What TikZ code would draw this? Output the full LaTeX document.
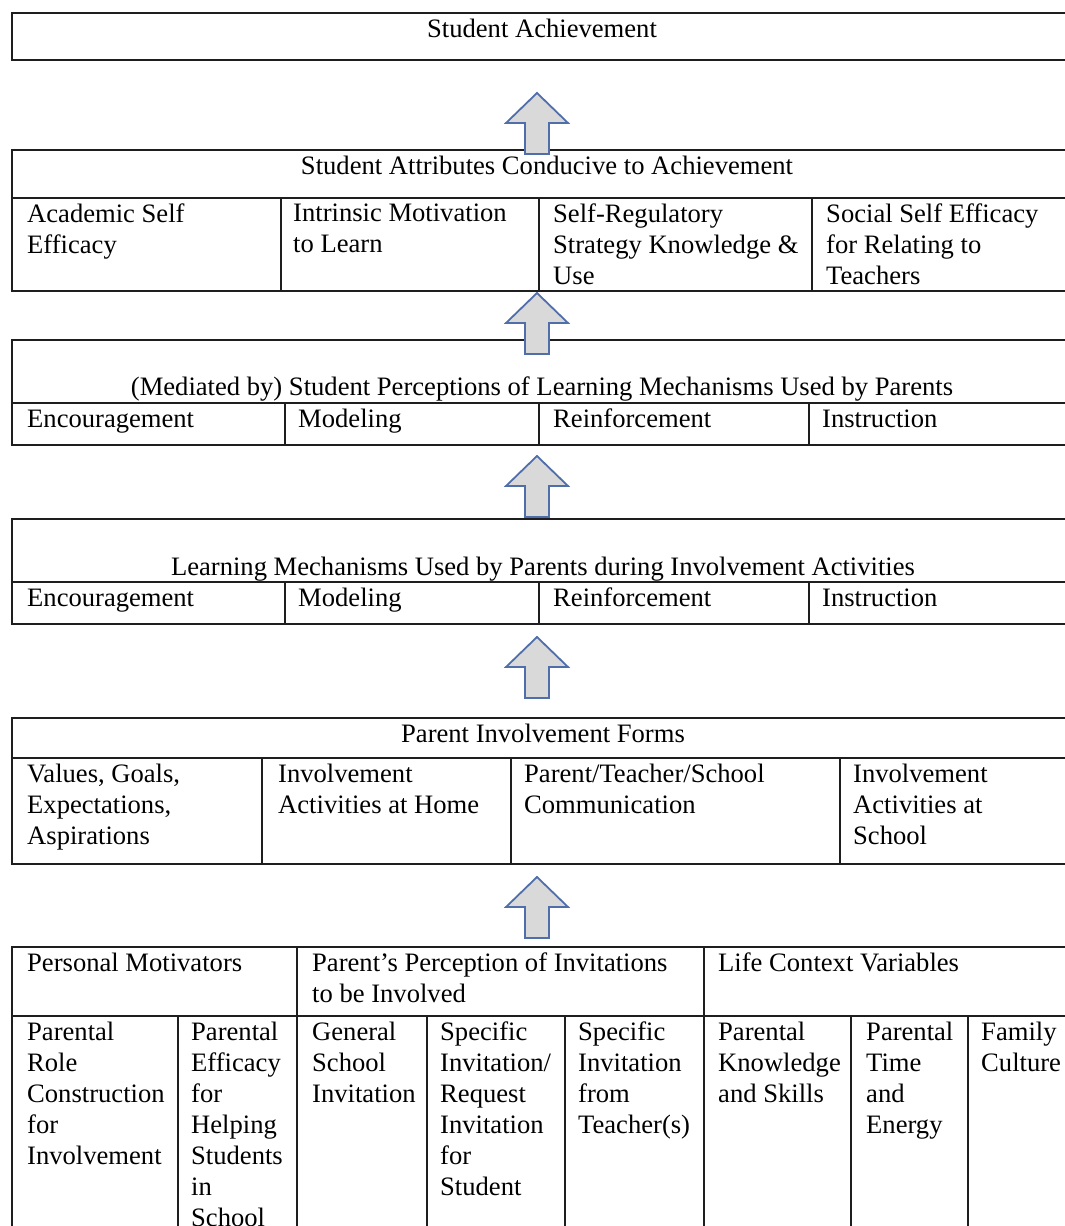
\documentclass[tikz,border=0pt]{standalone}
\usepackage{fontspec}
\setmainfont{Liberation Serif}
\definecolor{linec}{RGB}{30,30,30}
\definecolor{arrfill}{RGB}{217,217,217}
\definecolor{arrline}{RGB}{79,110,170}
\newcommand\diagfont{\fontsize{26.6}{31}\selectfont}
\begin{document}
\begin{tikzpicture}[x=1pt,y=-1pt,
  box/.style={draw=linec, line width=1.5pt},
  txt/.style={anchor=north west, inner sep=0pt, align=left, font=\diagfont, execute at begin node=\strut},
  mtxt/.style={txt, yshift=-3.5pt},
  head/.style={anchor=base, inner sep=0pt, font=\diagfont},
  blockarrow/.pic={\filldraw[fill=arrfill, draw=arrline, line width=1.8pt, line join=miter]
     (0,0) -- (31,30) -- (12,30) -- (12,61) -- (-12,61) -- (-12,30) -- (-31,30) -- cycle;}
]
\useasboundingbox (0,0) rectangle (1065,1226);
\clip (0,0) rectangle (1065,1226);

% Box 1
\draw[box] (12,13) rectangle (1080,60);
% Box 2
\draw[box] (12,150) rectangle (1080,291);
\draw[box] (12,198) -- (1080,198);
\foreach \x in {281,539,812} \draw[box] (\x,198) -- (\x,291);
% Box 3
\draw[box] (12,340) rectangle (1080,445);
\draw[box] (12,403) -- (1080,403);
\foreach \x in {285,539,809} \draw[box] (\x,403) -- (\x,445);
% Box 4
\draw[box] (12,519) rectangle (1080,624);
\draw[box] (12,582) -- (1080,582);
\foreach \x in {285,539,809} \draw[box] (\x,582) -- (\x,624);
% Box 5
\draw[box] (12,718) rectangle (1080,864);
\draw[box] (12,758) -- (1080,758);
\foreach \x in {262,511,840} \draw[box] (\x,758) -- (\x,864);
% Box 6
\draw[box] (12,947) rectangle (1080,1240);
\draw[box] (12,1016) -- (1080,1016);
\foreach \x in {297,704} \draw[box] (\x,947) -- (\x,1016);
\foreach \x in {178,297,427,565,704,851,968} \draw[box] (\x,1016) -- (\x,1240);

% Arrows
\pic at (537,93) {blockarrow};
\pic at (537,293) {blockarrow};
\pic at (537,456) {blockarrow};
\pic at (537,637) {blockarrow};
\pic at (537,877) {blockarrow};

% Texts
\node[head] (ach) at (542,37) {Student Achievement};

\node[head] (attr) at (547,174) {Student Attributes Conducive to Achievement};
\node[mtxt] (a1) at (27,200.3) {Academic Self\\Efficacy};
\node[mtxt] (a2) at (293,200.3) {Intrinsic Motivation\\to Learn};
\node[mtxt] (a3) at (553,200.3) {Self-Regulatory\\Strategy Knowledge \&\\Use};
\node[mtxt] (a4) at (826,200.3) {Social Self Efficacy\\for Relating to\\Teachers};

\node[head] (med) at (542,395) {(Mediated by) Student Perceptions of Learning Mechanisms Used by Parents};
\node[txt] (m1) at (27,405.3) {Encouragement};
\node[txt] (m2) at (298,405.3) {Modeling};
\node[txt] (m3) at (553,405.3) {Reinforcement};
\node[txt] (m4) at (822,405.3) {Instruction};

\node[head] (lm) at (543,575) {Learning Mechanisms Used by Parents during Involvement Activities};
\node[txt] (l1) at (27,584.3) {Encouragement};
\node[txt] (l2) at (298,584.3) {Modeling};
\node[txt] (l3) at (553,584.3) {Reinforcement};
\node[txt] (l4) at (822,584.3) {Instruction};

\node[head] (pif) at (543,742) {Parent Involvement Forms};
\node[mtxt] (f1) at (27,760.3) {Values, Goals,\\Expectations,\\Aspirations};
\node[mtxt] (f2) at (278,760.3) {Involvement\\Activities at Home};
\node[mtxt] (f3) at (524,760.3) {Parent/Teacher/School\\Communication};
\node[mtxt] (f4) at (853,760.3) {Involvement\\Activities at\\School};

\node[txt] (g1) at (27,949.3) {Personal Motivators};
\node[mtxt] (g2) at (312,949.3) {Parent’s Perception of Invitations\\to be Involved};
\node[txt] (g3) at (718,949.3) {Life Context Variables};

\node[mtxt] (s1) at (27,1018.3) {Parental\\Role\\Construction\\for\\Involvement};
\node[mtxt] (s2) at (191,1018.3) {Parental\\Efficacy\\for\\Helping\\Students\\in\\School};
\node[mtxt] (s3) at (312,1018.3) {General\\School\\Invitation};
\node[mtxt] (s4) at (440,1018.3) {Specific\\Invitation/\\Request\\Invitation\\for\\Student};
\node[mtxt] (s5) at (578,1018.3) {Specific\\Invitation\\from\\Teacher(s)};
\node[mtxt] (s6) at (718,1018.3) {Parental\\Knowledge\\and Skills};
\node[mtxt] (s7) at (866,1018.3) {Parental\\Time\\and\\Energy};
\node[mtxt] (s8) at (981,1018.3) {Family\\Culture};
\end{tikzpicture}
\end{document}
